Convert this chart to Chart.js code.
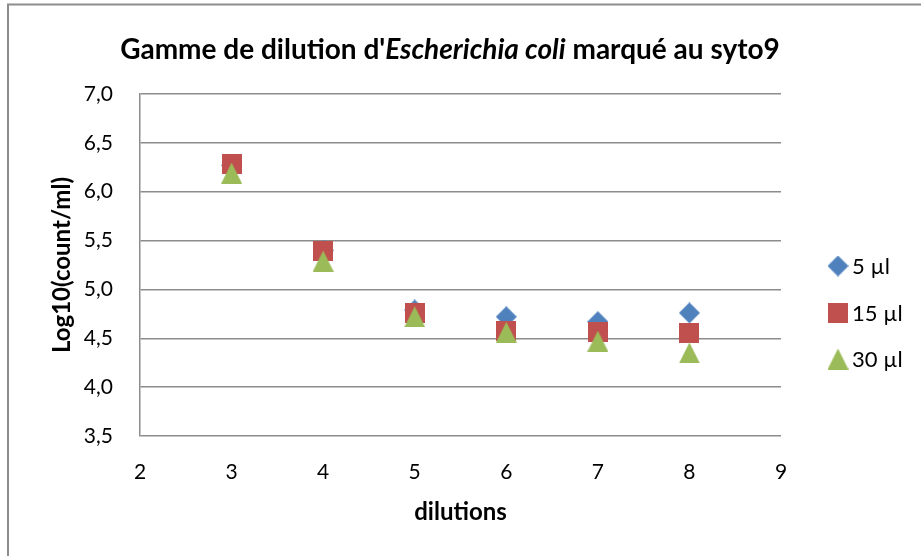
<!DOCTYPE html>
<html>
<head>
<meta charset="utf-8">
<script src="https://cdn.jsdelivr.net/npm/chart.js@4.4.1/dist/chart.umd.min.js"></script>
<style>
  html, body { margin: 0; padding: 0; background: #fff; }
  #wrap { position: relative; width: 921px; height: 556px; }
</style>
</head>
<body>
<div id="wrap"><canvas id="cDil"></canvas></div>
<script>
// ── Données ─────────────────────────────────────────────────────────────
const dilutions = [3, 4, 5, 6, 7, 8];
const vol5  = [6.27, 5.40, 4.79, 4.72, 4.67, 4.76];
const vol15 = [6.28, 5.39, 4.76, 4.57, 4.56, 4.55];
const vol30 = [6.19, 5.29, 4.72, 4.56, 4.47, 4.35];
const seriesLabels = ['5 µl', '15 µl', '30 µl'];
const seriesColors = ['#4F81BD', '#C0504D', '#9BBB59'];

const FONT = "Lato, Calibri, 'Noto Sans', sans-serif";
Chart.defaults.font.family = FONT;
Chart.defaults.color = '#000';

// Marqueurs façon Excel (forme remplissant la boîte, centrée)
function marker(kind, color, s) {
    const c = document.createElement('canvas');
    c.width = s; c.height = s;
    const x = c.getContext('2d');
    x.fillStyle = color;
    x.beginPath();
    if (kind === 'diamond') {
        x.moveTo(s / 2, 0); x.lineTo(s, s / 2); x.lineTo(s / 2, s); x.lineTo(0, s / 2);
    } else if (kind === 'square') {
        x.rect(0, 0, s, s);
    } else {
        x.moveTo(s / 2, 0); x.lineTo(s, s); x.lineTo(0, s);
    }
    x.closePath();
    x.fill();
    return c;
}
const markers = [
    marker('diamond', seriesColors[0], 21),
    marker('square', seriesColors[1], 20),
    marker('triangle', seriesColors[2], 21),
];

const toPts = ys => dilutions.map((d, i) => ({ x: d, y: ys[i] }));

// ── Titre mixte (italique pour le nom d'espèce) + légende + cadre ───────
const decor = {
    id: 'decor',
    afterDraw(chart) {
        const ctx = chart.ctx;
        ctx.save();
        // cadre
        ctx.strokeStyle = '#8c8c8c';
        ctx.lineWidth = 2;
        ctx.beginPath();
        ctx.moveTo(8, 600); ctx.lineTo(8, 4.5); ctx.lineTo(1000, 4.5);
        ctx.stroke();

        // titre
        const parts = [
            ["Gamme de dilution d'", 'bold'],
            ['Escherichia coli', 'italic bold'],
            [' marqué au syto9', 'bold'],
        ];
        ctx.fillStyle = '#000';
        ctx.textBaseline = 'alphabetic';
        let total = 0;
        parts.forEach(p => { ctx.font = `${p[1]} 28px ${FONT}`; total += ctx.measureText(p[0]).width; });
        let x = 450 - total / 2;
        parts.forEach(p => {
            ctx.font = `${p[1]} 28px ${FONT}`;
            ctx.fillText(p[0], x, 59);
            x += ctx.measureText(p[0]).width;
        });

        // légende
        ctx.font = `22px ${FONT}`;
        ctx.textBaseline = 'middle';
        const ly = [266, 313, 359];
        seriesLabels.forEach((lab, i) => {
            const m = markers[i];
            ctx.drawImage(m, 838 - m.width / 2, ly[i] - m.height / 2);
            ctx.fillText(lab, 852, ly[i] + 1);
        });
        ctx.restore();
    },
};

new Chart(document.getElementById('cDil'), {
    type: 'scatter',
    data: {
        datasets: [vol5, vol15, vol30].map((ys, i) => ({
            label: seriesLabels[i],
            data: toPts(ys),
            order: 3 - i,
            pointStyle: markers[i],
            backgroundColor: seriesColors[i],
            borderColor: seriesColors[i],
        })),
    },
    options: {
        responsive: true,
        maintainAspectRatio: false,
        animation: false,
        layout: { padding: { left: 0, top: 94, right: 140, bottom: 0 } },
        plugins: {
            legend: { display: false },
            title: { display: false },
            tooltip: { enabled: false },
        },
        scales: {
            x: {
                type: 'linear',
                min: 2, max: 9,
                afterFit: s => { s.height = 120; },
                grid: { display: false },
                border: { display: false },
                ticks: { stepSize: 1, padding: 16, font: { size: 21 }, color: '#000' },
                title: { display: true, text: 'dilutions', font: { size: 24, weight: 'bold' }, color: '#000', padding: { top: 29, bottom: 29 } },
            },
            y: {
                min: 3.5, max: 7,
                afterFit: s => { s.width = 140; },
                grid: { color: '#8c8c8c', lineWidth: 1.5, drawTicks: false },
                border: { display: true, color: '#8c8c8c', width: 1.5 },
                ticks: {
                    stepSize: 0.5, padding: 27, font: { size: 21 }, color: '#000',
                    callback: v => v.toFixed(1).replace('.', ','),
                },
                title: { display: true, text: 'Log10(count/ml)', font: { size: 24, weight: 'bold' }, color: '#000', padding: { top: 48, bottom: 48 } },
            },
        },
    },
    plugins: [decor],
});
</script>
</body>
</html>
